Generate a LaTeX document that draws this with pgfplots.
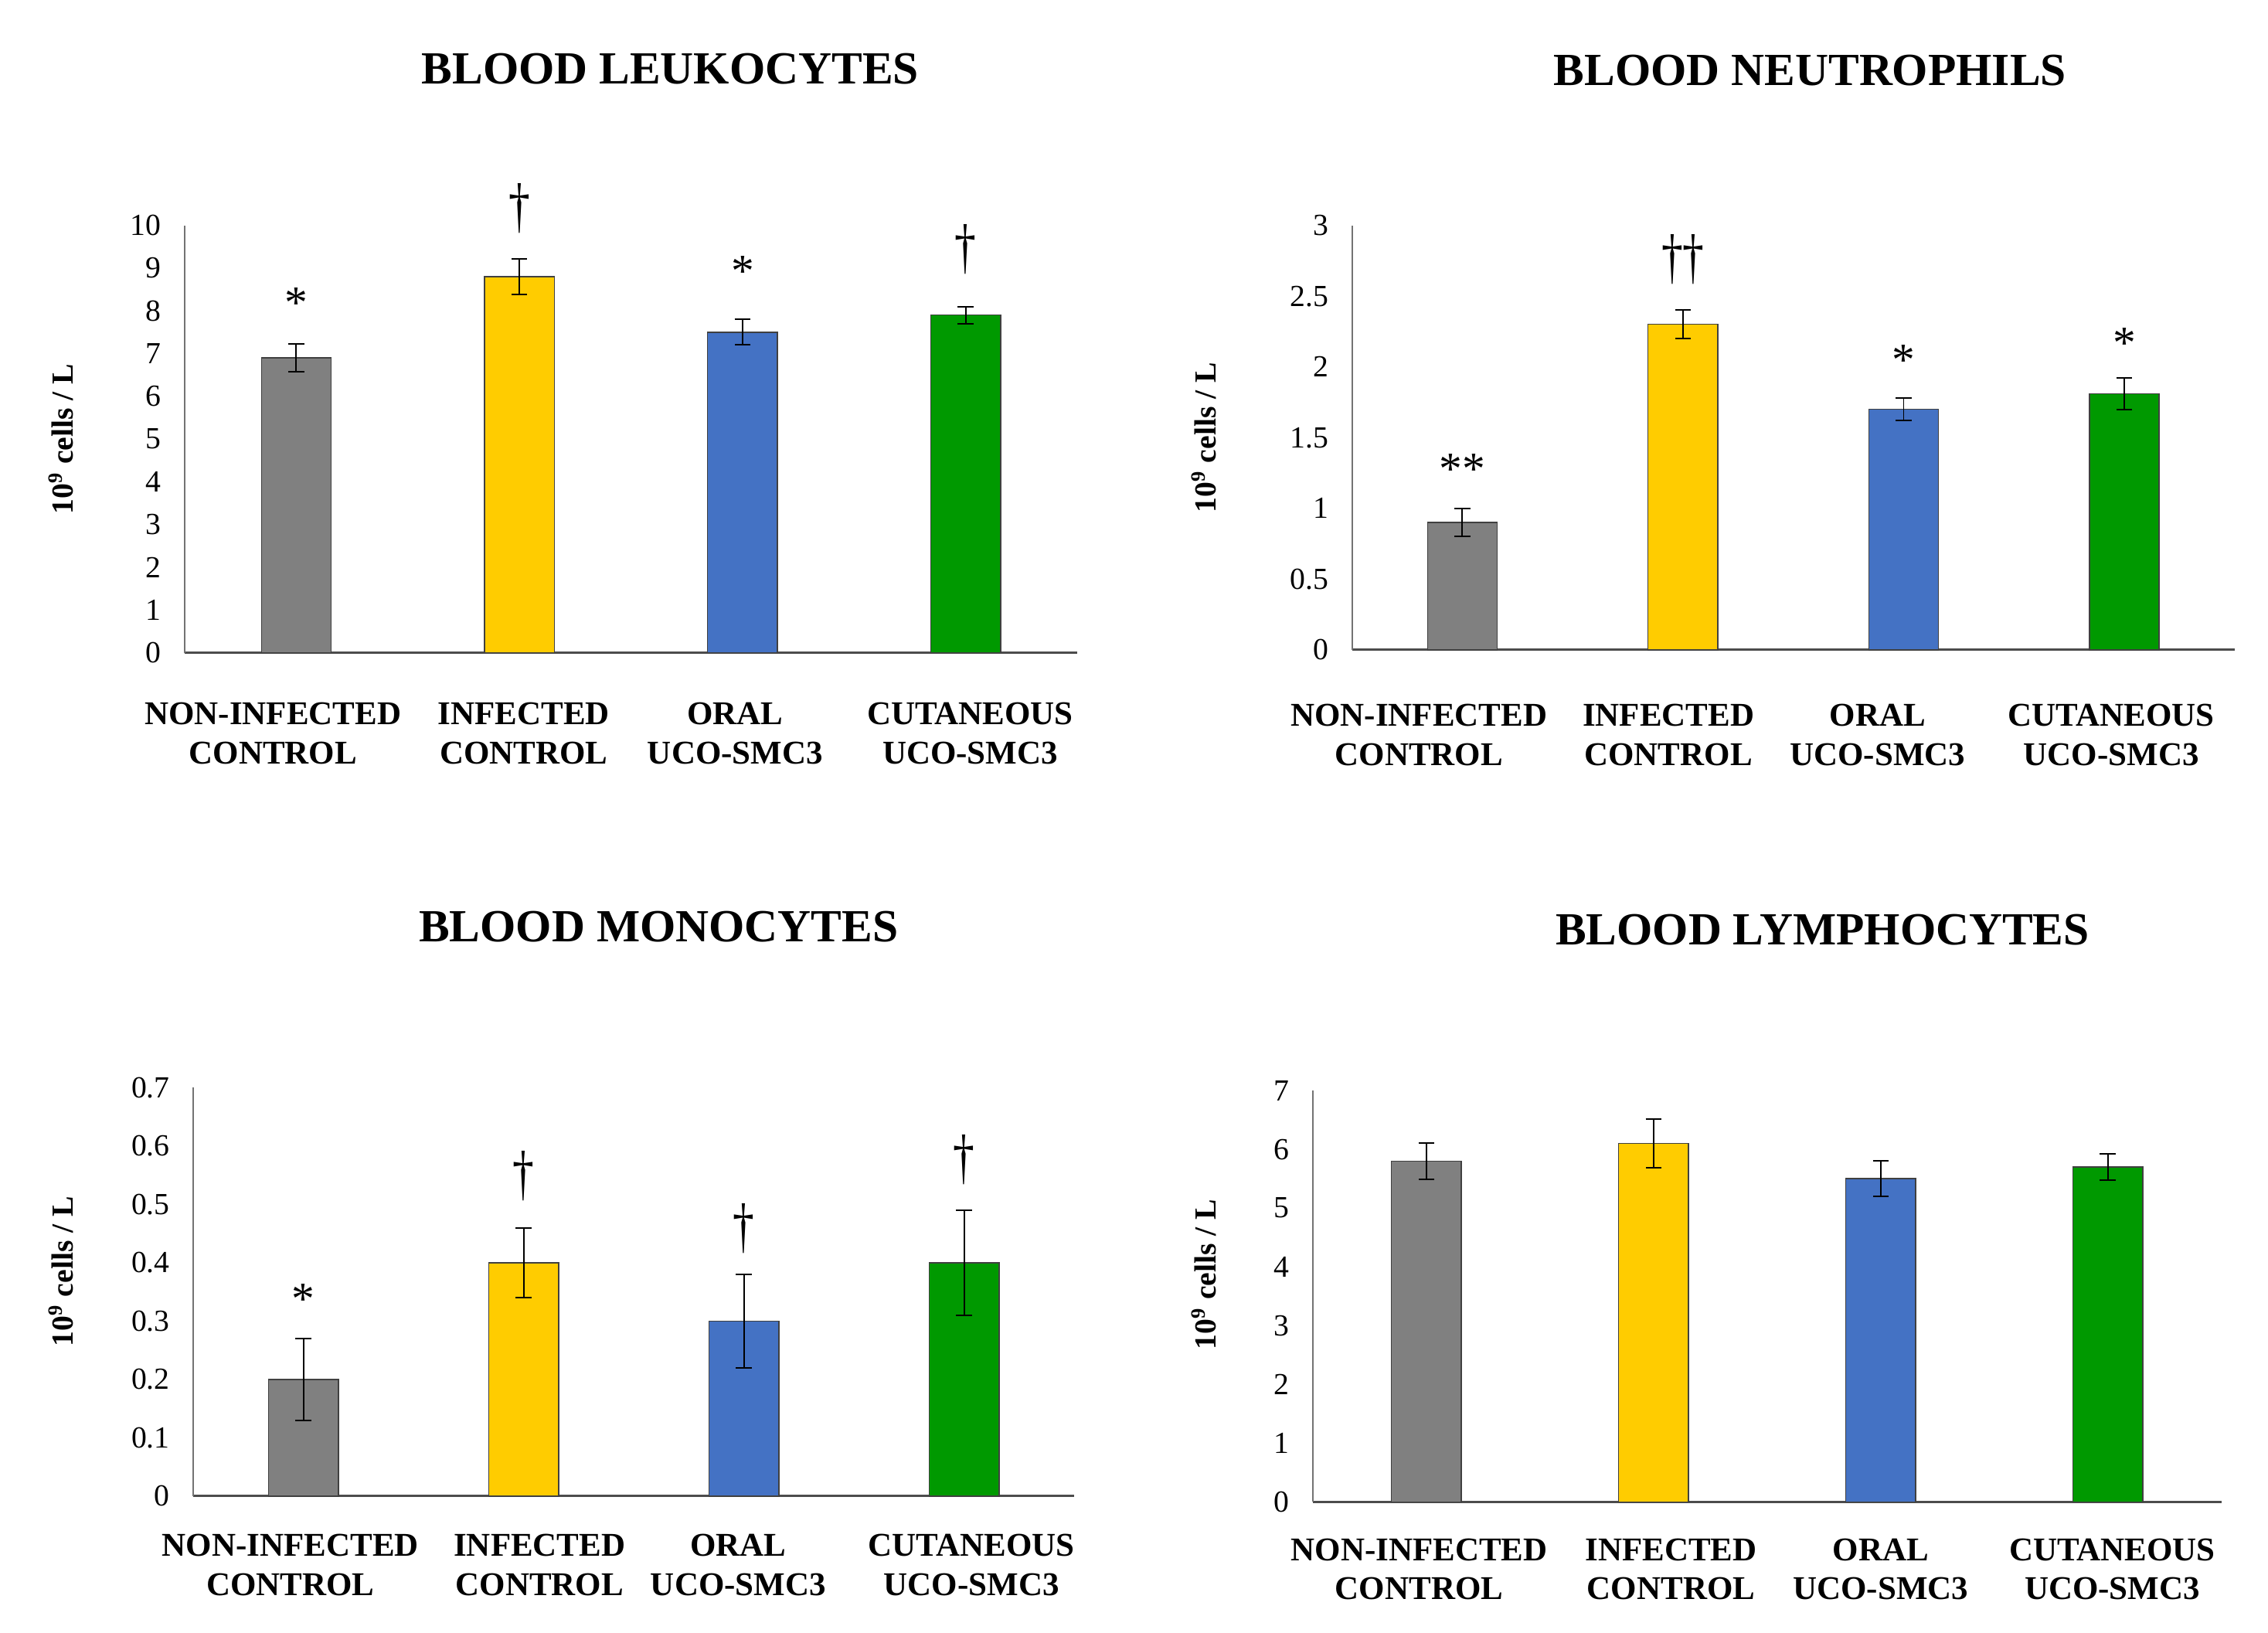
\documentclass[border=0pt]{standalone}
\usepackage{fontspec}
\setmainfont{Liberation Serif}
\usepackage{pgfplots}
\pgfplotsset{compat=1.18}

\definecolor{cgray}{HTML}{808080}
\definecolor{cyellow}{HTML}{FFCC00}
\definecolor{cblue}{HTML}{4472C4}
\definecolor{cgreen}{HTML}{009900}

\pgfplotsset{
  panel/.style={
    scale only axis, clip=false,
    xmin=-0.5, xmax=3.5, ymin=0,
    axis lines*=left, axis line style={-},
    y axis line style={black!55, line width=0.5pt},
    x axis line style={black!70, line width=0.9pt},
    major tick length=0pt,
    xticklabels={NON-INFECTED\\CONTROL, INFECTED\\CONTROL, ORAL\\UCO-SMC3, CUTANEOUS\\UCO-SMC3},
    xticklabel style={align=center, font=\fontsize{13}{15.3}\selectfont\bfseries, anchor=north},
    yticklabel style={font=\fontsize{12}{14}\selectfont, xshift=-2mm},
    /pgf/number format/assume math mode=true,
    /pgf/number format/fixed,
    ylabel={10\textsuperscript{9} cells / L},
    ylabel style={font=\fontsize{12}{14}\selectfont\bfseries, anchor=center},
    title style={font=\fontsize{18}{20}\selectfont\bfseries, anchor=center},
  },
  gbar/.style={ybar, bar width=9.6mm, bar shift=0pt, fill=#1, draw=black!75, line width=0.4pt,
    error bars/y dir=both, error bars/y explicit,
    error bars/error mark=|,
    error bars/error bar style={black, line width=0.6pt},
    error bars/error mark options={black, line width=0.6pt, mark size=1.1mm}},
  sig/.style={draw=none, mark=none, nodes near coords, point meta=explicit symbolic,
    nodes near coords style={anchor=center, font=\fontsize{18}{20}\selectfont}},
  dag/.style={sig, nodes near coords style={font=\fontsize{24}{26}\selectfont, xscale=0.7}},
}

% four bars: value, error for each group
\newcommand\groupbars[8]{%
  \addplot[gbar=cgray]   coordinates {(0,#1) +- (0,#2)};
  \addplot[gbar=cyellow] coordinates {(1,#3) +- (0,#4)};
  \addplot[gbar=cblue]   coordinates {(2,#5) +- (0,#6)};
  \addplot[gbar=cgreen]  coordinates {(3,#7) +- (0,#8)};
}

\begin{document}
\begin{tikzpicture}
\path[use as bounding box] (0,0) rectangle (312mm,224.6mm);

% leukocytes
\begin{axis}[panel, at={(25.4mm,134.8mm)}, anchor=south west,
  width=122.8mm, height=58.8mm, ymax=10, ytick={0,1,2,3,4,5,6,7,8,9,10},
  xtick={-0.104,1.02,1.967,3.02},
  title={BLOOD LEUKOCYTES},
  title style={at={([xshift=5.4mm,yshift=19.4mm]axis description cs:0.5,1)}},
  ylabel style={at={([xshift=-17mm]axis description cs:0,0.5)}},
  xticklabel style={yshift=-5.6mm}]
\groupbars{6.9}{0.33}{8.8}{0.41}{7.5}{0.3}{7.9}{0.2}
\addplot[sig] table[meta=m] {
x y m
0 8.18 *
2 8.93 *
};
\addplot[dag] table[meta=m] {
x y m
1 10.4 †
3 9.44 †
};
\end{axis}

% neutrophils
\begin{axis}[panel, at={(186mm,135.2mm)}, anchor=south west,
  width=121.4mm, height=58.4mm, ymax=3, ytick={0,0.5,1,1.5,2,2.5,3},
  xtick={-0.197,0.934,1.882,2.941},
  title={BLOOD NEUTROPHILS},
  title style={at={([xshift=2.3mm,yshift=19.2mm]axis description cs:0.5,1)}},
  ylabel style={at={([xshift=-20.4mm]axis description cs:0,0.5)}},
  xticklabel style={yshift=-6.2mm}]
\groupbars{0.9}{0.1}{2.3}{0.1}{1.7}{0.08}{1.81}{0.11}
\addplot[sig] table[meta=m] {
x y m
0 1.28 **
2 2.05 *
3 2.17 *
};
\addplot[dag] table[meta=m] {
x y m
1 2.76 ††
};
\end{axis}

% monocytes
\begin{axis}[panel, at={(26.6mm,18.8mm)}, anchor=south west,
  width=121.2mm, height=56.2mm, ymax=0.7, ytick={0,0.1,0.2,0.3,0.4,0.5,0.6,0.7},
  xtick={-0.059,1.072,1.974,3.033},
  title={BLOOD MONOCYTES},
  title style={at={([xshift=3.4mm,yshift=20mm]axis description cs:0.5,1)}},
  ylabel style={at={([xshift=-18.2mm,yshift=2.8mm]axis description cs:0,0.5)}},
  xticklabel style={yshift=-4mm}]
\groupbars{0.2}{0.07}{0.4}{0.06}{0.3}{0.08}{0.4}{0.09}
\addplot[sig] table[meta=m] {
x y m
0 0.337 *
};
\addplot[dag] table[meta=m] {
x y m
1 0.548 †
2 0.458 †
3 0.576 †
};
\end{axis}

% lymphocytes
\begin{axis}[panel, at={(180.6mm,18mm)}, anchor=south west,
  width=125mm, height=56.6mm, ymax=7, ytick={0,1,2,3,4,5,6,7},
  xtick={-0.032,1.077,2.0,3.019},
  title={BLOOD LYMPHOCYTES},
  title style={at={([xshift=7.6mm,yshift=20mm]axis description cs:0.5,1)}},
  ylabel style={at={([xshift=-15mm,yshift=3mm]axis description cs:0,0.5)}},
  xticklabel style={yshift=-3.8mm}]
\groupbars{5.8}{0.31}{6.1}{0.41}{5.5}{0.3}{5.7}{0.22}
\end{axis}
\end{tikzpicture}
\end{document}
